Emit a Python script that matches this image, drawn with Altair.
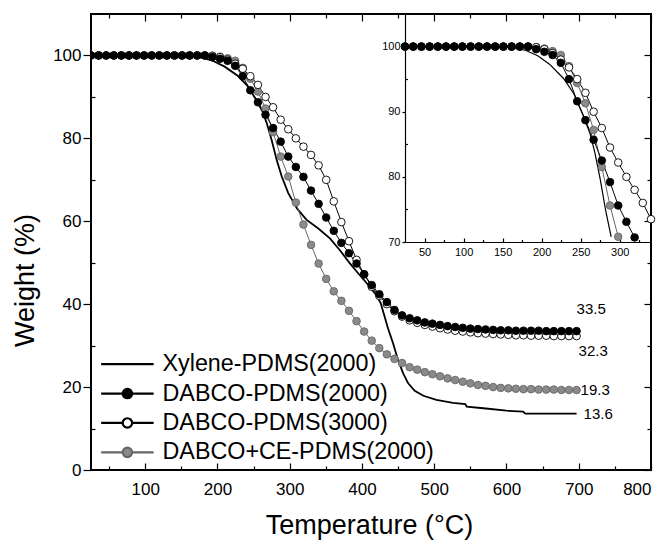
import altair as alt
import pandas as pd

FONT = "Liberation Sans"

SERIES = ["Xylene-PDMS(2000)", "DABCO-PDMS(2000)", "DABCO-PDMS(3000)", "DABCO+CE-PDMS(2000)"]

# temperatures (deg C) at which the symbol series are sampled
T_GRID = [25, 35.5, 46, 56.5, 67, 77.5, 88, 98.5, 109, 119.5, 130, 140.5, 151, 161.5, 172,
          182.5, 193, 203.5, 214, 224.5, 235, 245.5, 256, 266.5, 277, 287.5, 298, 308.5,
          319, 329.5, 340, 350.5, 361, 371.5, 382, 392.5, 403, 413.5, 424, 434.5, 445,
          455.5, 466, 476.5, 487, 497.5, 508, 518.5, 529, 539.5, 550, 560.5, 571, 581.5,
          592, 602.5, 613, 623.5, 634, 644.5, 655, 665.5, 676, 686.5, 697]

W_D2000 = [100, 100, 100, 100, 100, 100, 100, 100, 100, 100, 100, 100, 100, 100, 100, 100,
           99.6, 99.2, 98.7, 97.5, 95.0, 91.6, 88.7, 85.7, 82.5, 79.2, 75.6, 73.1, 70.7,
           67.4, 64.2, 60.9, 57.7, 54.8, 52.3, 49.8, 47.2, 44.6, 42.4, 40.5, 38.6, 37.3,
           36.6, 36.1, 35.6, 35.3, 35.0, 34.7, 34.5, 34.3, 34.1, 34.0, 33.9, 33.8, 33.7,
           33.7, 33.6, 33.6, 33.6, 33.6, 33.5, 33.5, 33.5, 33.5, 33.5]

W_D3000 = [100, 100, 100, 100, 100, 100, 100, 100, 100, 100, 100, 100, 100, 100, 100, 100,
           99.9, 99.6, 99.0, 98.0, 96.8, 95.0, 92.9, 90.0, 87.5, 84.5, 82.2, 80.0, 78.0,
           76.0, 73.5, 70.0, 64.8, 59.8, 55.2, 50.7, 47.2, 44.2, 42.0, 40.0, 38.3, 37.0,
           36.1, 35.5, 35.0, 34.6, 34.2, 33.9, 33.6, 33.4, 33.2, 33.0, 32.9, 32.8, 32.7,
           32.6, 32.5, 32.5, 32.4, 32.4, 32.4, 32.3, 32.3, 32.3, 32.3]

W_CE = [100, 100, 100, 100, 100, 100, 100, 100, 100, 100, 100, 100, 100, 100, 100, 100,
        99.9, 99.7, 99.3, 98.7, 97.0, 94.4, 91.3, 87.2, 81.5, 75.6, 70.8, 64.5, 59.2,
        54.3, 49.8, 46.1, 43.1, 40.8, 38.4, 35.9, 33.4, 31.2, 29.4, 27.9, 26.8, 25.8,
        24.8, 24.2, 23.6, 23.1, 22.6, 22.1, 21.7, 21.3, 20.9, 20.5, 20.3, 20.0, 19.8,
        19.7, 19.6, 19.5, 19.5, 19.4, 19.4, 19.4, 19.3, 19.3, 19.3]

XY_T = [25, 160, 180, 195, 210, 228, 241, 254, 262, 268, 275, 282, 289, 298, 310, 323, 340,
        356, 370, 383, 395, 407, 420, 426, 430, 436, 443, 450, 457, 464, 473, 485, 503, 526,
        543, 545, 568, 600, 623, 626, 697]
XY_W = [100, 99.9, 99.4, 98.6, 97.3, 95.1, 92.8, 89.2, 86.6, 83.8, 79.6, 74.8, 70.8, 66.8,
        63.1, 60.4, 58.2, 55.8, 52.9, 49.9, 47.4, 45.0, 42.2, 40.2, 37.8, 34.2, 30.6, 26.5,
        23.3, 20.9, 19.1, 17.9, 16.9, 16.2, 15.9, 15.3, 14.9, 14.3, 14.1, 13.6, 13.6]

X_TICKS = [100, 200, 300, 400, 500, 600, 700, 800]
X_MINOR = [50, 150, 250, 350, 450, 550, 650, 750]
Y_TICKS = [0, 20, 40, 60, 80, 100]
Y_MINOR = [10, 30, 50, 70, 90]
IX_TICKS = [50, 100, 150, 200, 250, 300]
IX_MINOR = [75, 125, 175, 225, 275, 325]
IY_TICKS = [70, 80, 90, 100]
IY_MINOR = [75, 85, 95]

STROKE_RANGE = ["#000000", "#000000", "#000000", "#666666"]
FILL_RANGE = ["transparent", "#000000", "#ffffff", "#8a8a8a"]
# legend symbols: a 52 px line, with a circle in the middle for the symbol series
LINE_SYM = "M-3,0L3,0"
DOT_SYM = ("M-3,0L-0.54,0M0.54,0L3,0M0.54,0A0.54,0.54,0,1,1,-0.54,0"
           "A0.54,0.54,0,1,1,0.54,0Z")
SHAPE_RANGE = [LINE_SYM, DOT_SYM, DOT_SYM, DOT_SYM]

# ---------------- data tables ----------------
rows = []
for name, vals in [(SERIES[3], W_CE), (SERIES[2], W_D3000), (SERIES[1], W_D2000)]:
    for t, w in zip(T_GRID, vals):
        rows.append({"series": name, "T": t, "W": w})
marker_df = pd.DataFrame(rows)
xyl_df = pd.DataFrame({"T": XY_T, "W": XY_W})
ends = pd.DataFrame({
    "T": [T_GRID[-1], T_GRID[-1], T_GRID[-1], XY_T[-1]],
    "W": [W_D2000[-1], W_D3000[-1], W_CE[-1], XY_W[-1]],
})
ends["label"] = ends["W"].map(lambda v: f"{v:.1f}")
ends["i"] = range(len(ends))
leg_df = pd.DataFrame({"series": SERIES})

# ---------------- scales ----------------
X_MAIN = alt.Scale(domain=[25, 800], nice=False, zero=False)
Y_MAIN = alt.Scale(domain=[0, 110], nice=False, zero=False)
X_IN = alt.Scale(domain=[25, 340], range=[314, 560], nice=False, zero=False)
Y_IN = alt.Scale(domain=[70, 105], range=[228, 0], nice=False, zero=False)
STROKE = alt.Scale(domain=SERIES, range=STROKE_RANGE)
FILL = alt.Scale(domain=SERIES, range=FILL_RANGE)
SHAPE = alt.Scale(domain=SERIES, range=SHAPE_RANGE)

MARK_SIZE = 58


def axis(orient, values, tick, inward=False, shift=0, labels=False, **kw):
    off = shift - tick if inward else shift
    return alt.Axis(orient=orient, values=values, tickSize=tick, offset=off, domain=False,
                    grid=False, labels=labels, ticks=True, tickColor="#000000", tickWidth=1.2,
                    labelColor="#000000", labelFont=FONT, **kw)


def frame_axis(orient, shift):
    return alt.Axis(orient=orient, offset=shift, domain=True, domainColor="#000000",
                    domainWidth=1.2, ticks=False, labels=False, grid=False)


TITLE_STYLE = dict(titleFont=FONT, titleFontSize=27, titleFontWeight="normal",
                   titleColor="#000000", titleBaseline="middle", titleAlign="center")

LEG = dict(orient="none", legendX=24.75, legendY=338.5, title=None, labelFont=FONT,
           labelFontSize=23.3, labelColor="#000000", labelLimit=400, symbolSize=306,
           symbolStrokeWidth=2.2, symbolOpacity=1, rowPadding=5.4, labelOffset=23.5,
           padding=0, symbolOffset=0, direction="vertical")

# ---------------- main plot ----------------
xyl_main = alt.Chart(xyl_df).mark_line(color="black", strokeWidth=1.8, clip=True).encode(
    x=alt.X("T:Q", scale=X_MAIN, title="Temperature (°C)",
            axis=axis("bottom", X_TICKS, 7, inward=True, labels=True, labelFontSize=17,
                      labelPadding=11, titleX=278, titleY=62, **TITLE_STYLE)),
    y=alt.Y("W:Q", scale=Y_MAIN, title="Weight (%)",
            axis=axis("left", Y_TICKS, 8, labels=True, labelFontSize=17, labelPadding=2,
                      titleX=-66, titleY=266, titleAngle=270, **TITLE_STYLE)),
)

lines_main = alt.Chart(marker_df).mark_line(strokeWidth=1, clip=True).encode(
    x=alt.X("T:Q", scale=X_MAIN, title=None, axis=axis("bottom", X_MINOR, 4, inward=True)),
    y=alt.Y("W:Q", scale=Y_MAIN, title=None, axis=axis("left", Y_MINOR, 4, inward=True)),
    stroke=alt.Stroke("series:N", scale=STROKE),
)

pts_main = alt.Chart(marker_df).mark_point(shape="circle", size=MARK_SIZE, opacity=1,
                                           strokeWidth=0.9, clip=True).encode(
    x=alt.X("T:Q", scale=X_MAIN, title=None, axis=axis("top", X_TICKS, 7, inward=True)),
    y=alt.Y("W:Q", scale=Y_MAIN, title=None, axis=axis("right", Y_TICKS, 7, inward=True)),
    fill=alt.Fill("series:N", scale=FILL),
    stroke=alt.Stroke("series:N", scale=STROKE),
)

LABEL_DX = [0, 2, 4, 7]
LABEL_DY = [-22, 15, 0, 0]
text_layers = []
for i in range(len(ends)):
    if i == 0:
        xa = axis("top", X_MINOR, 4, inward=True)
        ya = axis("right", Y_MINOR, 4, inward=True)
    else:
        xa = None
        ya = None
    text_layers.append(
        alt.Chart(ends).transform_filter(alt.datum.i == i).mark_text(
            align="left", baseline="middle", dx=LABEL_DX[i], dy=LABEL_DY[i], fontSize=15,
            font=FONT, color="black").encode(
            x=alt.X("T:Q", scale=X_MAIN, title=None, axis=xa),
            y=alt.Y("W:Q", scale=Y_MAIN, title=None, axis=ya),
            text="label:N",
        )
    )

legend_layer = alt.Chart(leg_df).mark_point(opacity=0).encode(
    shape=alt.Shape("series:N", scale=SHAPE, legend=alt.Legend(**LEG)),
    fill=alt.Fill("series:N", scale=FILL, legend=alt.Legend(**LEG)),
    stroke=alt.Stroke("series:N", scale=STROKE, legend=alt.Legend(**LEG)),
)

# ---------------- inset ----------------
xyl_in = alt.Chart(xyl_df).transform_filter(
    (alt.datum.T <= 340) & (alt.datum.W >= 70)).mark_line(color="black", strokeWidth=1.2).encode(
    x=alt.X("T:Q", scale=X_IN, title=None,
            axis=axis("bottom", IX_TICKS, 4, inward=True, shift=-228, labels=True,
                      labelFontSize=11, labelPadding=4)),
    y=alt.Y("W:Q", scale=Y_IN, title=None,
            axis=axis("left", IY_TICKS, 3, shift=-314, labels=True, labelFontSize=11,
                      labelPadding=2)),
)

lines_in = alt.Chart(marker_df).transform_filter(
    (alt.datum.T <= 341) & (alt.datum.W >= 70)).mark_line(strokeWidth=1).encode(
    x=alt.X("T:Q", scale=X_IN, title=None,
            axis=axis("bottom", IX_MINOR, 2.5, inward=True, shift=-228)),
    y=alt.Y("W:Q", scale=Y_IN, title=None,
            axis=axis("left", IY_MINOR, 2.5, inward=True, shift=-314)),
    stroke=alt.Stroke("series:N", scale=STROKE),
)

pts_in = alt.Chart(marker_df).transform_filter(
    (alt.datum.T <= 341) & (alt.datum.W >= 69.4)).mark_point(
    shape="circle", size=MARK_SIZE, opacity=1, strokeWidth=0.9).encode(
    x=alt.X("T:Q", scale=X_IN, title=None, axis=frame_axis("bottom", -228)),
    y=alt.Y("W:Q", scale=Y_IN, title=None, axis=frame_axis("left", -314)),
    fill=alt.Fill("series:N", scale=FILL),
    stroke=alt.Stroke("series:N", scale=STROKE),
)

chart = alt.layer(
    xyl_main, lines_main, pts_main, *text_layers, legend_layer, xyl_in, lines_in, pts_in
).resolve_scale(
    x="independent", y="independent"
).resolve_axis(
    x="independent", y="independent"
).properties(
    width=560, height=456,
    autosize=alt.AutoSizeParams(type="none"),
    padding={"left": 83, "top": 6, "right": 5, "bottom": 70},
).configure(
    font=FONT
).configure_view(
    stroke="black", strokeWidth=2
)

chart.save("out.html", embed_options={"renderer": "svg", "actions": False})
